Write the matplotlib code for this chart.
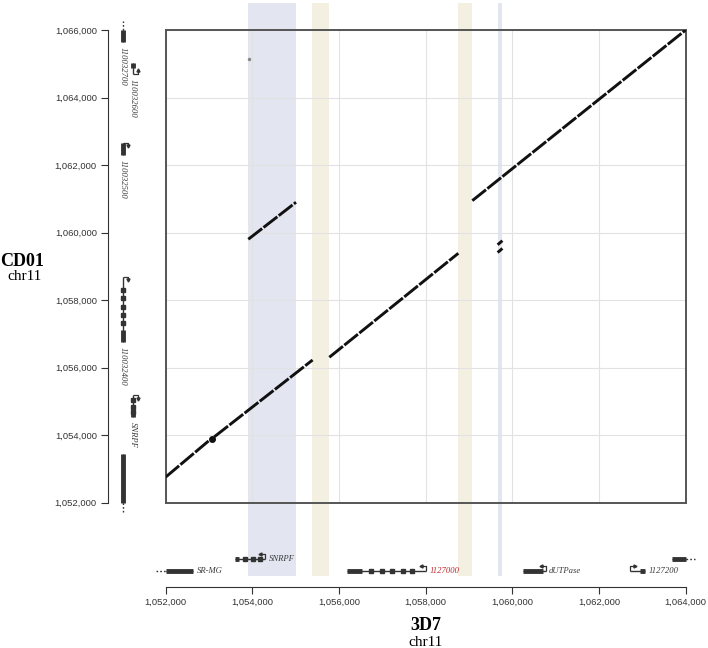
import matplotlib
matplotlib.use('Agg')
import matplotlib.pyplot as plt
from matplotlib.ticker import FuncFormatter, MultipleLocator

# plot ranges (3D7 on x, CD01 on y)
x_lo, x_hi = 1052000, 1064000
y_lo, y_hi = 1052000, 1066000

# highlighted regions on 3D7
blue_spans = [(1053906, 1055007), (1059669, 1059768)]
tan_spans = [(1055383, 1055769), (1058753, 1059076)]

# alignment segments (3D7 x, CD01 y)
seg_x0 = [1052000, 1053120, 1055776, 1059076, 1053906, 1059660, 1059660]
seg_x1 = [1053000, 1055390, 1058753, 1064000, 1055007, 1059770, 1059770]
seg_y0 = [1052760, 1053950, 1056307, 1060946, 1059802, 1059640, 1059410]
seg_y1 = [1053840, 1056227, 1059387, 1066000, 1060898, 1059760, 1059530]
blob_x, blob_y = [1053062], [1053896]
spot_x, spot_y = [1053930], [1065143]

# 3D7 genes (bottom track)
names_3d7 = ['SR-MG', 'SNRPF', '1127000', 'dUTPase', '1127200', '']
start_3d7 = [1052000, 1053600, 1056177, 1060253, 1062715, 1063677]
end_3d7 = [1052637, 1054290, 1058008, 1060770, 1063062, 1064000]
lane_3d7 = [0, 1, 0, 0, 0, 1]
thick_3d7 = [(1052000, 1052637), (1053600, 1053700), (1056177, 1056523),
             (1060253, 1060714), (1062946, 1063062), (1063677, 1064000)]
exon_3d7 = [[], [1053830, 1054020, 1054180],
            [1056731, 1056985, 1057230, 1057484, 1057692], [], [], []]
tss_3d7 = [None, 1054290, 1058008, 1060770, 1062715, None]
tdir_3d7 = [0, -1, -1, -1, 1, 0]
dotted_3d7 = [(1051780, 1052000), None, None, None, None, (1064000, 1064215)]

# CD01 genes (left track)
names_cd01 = ['110032700', '110032600', '110032500', '110032400', 'SNRPF', '']
start_cd01 = [1065640, 1064700, 1062300, 1056769, 1054547, 1052000]
end_cd01 = [1066000, 1065017, 1062663, 1058694, 1055190, 1053443]
lane_cd01 = [0, 1, 0, 0, 1, 0]
thick_cd01 = [(1065640, 1066000), (1064880, 1065017), (1062300, 1062663),
              (1056769, 1057116), (1054547, 1054620), (1052000, 1053443)]
exon_cd01 = [[], [], [], [1058300, 1058055, 1057806, 1057560, 1057314],
             [1055042, 1054844, 1054695], []]
tss_cd01 = [None, 1064700, 1062663, 1058694, 1055190, None]
tdir_cd01 = [0, 1, -1, -1, -1, 0]
dotted_cd01 = [(1066000, 1066260), None, None, None, None, (1051733, 1052000)]

W, H = 708, 648
fig = plt.figure(figsize=(W / 100, H / 100), dpi=100)


def box(x0, x1, ytop, ybot):
    return [x0 / W, 1 - ybot / H, (x1 - x0) / W, (ybot - ytop) / H]


serif = 'Liberation Serif'
sans = 'Liberation Sans'
gene_col = '#333333'
fmt = FuncFormatter(lambda v, p: f'{int(v):,}')

ax = fig.add_axes(box(165.7, 685.7, 30, 502.7))
ax.set_xlim(x_lo, x_hi)
ax.set_ylim(y_lo, y_hi)
ax.xaxis.set_major_locator(MultipleLocator(2000))
ax.yaxis.set_major_locator(MultipleLocator(2000))
ax.tick_params(length=0, labelbottom=False, labelleft=False)
ax.grid(True, color='#e2e2e2', lw=0.8)
for s in ax.spines.values():
    s.set_color('#555555')
    s.set_linewidth(1.4)

for a, b in blue_spans:
    ax.axvspan(a, b, ymin=-0.155, ymax=1.057, color='#e3e5f1', lw=0, zorder=0.5, clip_on=False)
for a, b in tan_spans:
    ax.axvspan(a, b, ymin=-0.155, ymax=1.057, color='#f3f0e2', lw=0, zorder=0.5, clip_on=False)

for i in range(len(seg_x0)):
    ax.plot([seg_x0[i], seg_x1[i]], [seg_y0[i], seg_y1[i]], color='#111111',
            lw=2.1, dashes=(6, 0.6), solid_capstyle='butt', zorder=3)
ax.plot(blob_x, blob_y, 'o', color='#111111', ms=4, zorder=3)
ax.plot(spot_x, spot_y, 'o', color='#888888', ms=1.5, zorder=3)

# bottom gene track + x axis
axb = fig.add_axes(box(165.7, 685.7, 502.7, 586.7))
axb.set_facecolor('none')
axb.set_xlim(x_lo, x_hi)
axb.set_ylim(0, 1)
axb.xaxis.set_major_locator(MultipleLocator(2000))
axb.xaxis.set_major_formatter(fmt)
axb.set_yticks([])
for k in ['top', 'right', 'left']:
    axb.spines[k].set_visible(False)
axb.spines['bottom'].set_color('#333333')
axb.tick_params(axis='x', direction='out', length=5, color='#333333',
                labelsize=6.8, labelcolor='#333333', pad=3)

# left gene track + y axis
axl = fig.add_axes(box(108, 165.7, 30, 502.7))
axl.set_facecolor('none')
axl.set_ylim(y_lo, y_hi)
axl.set_xlim(0, 1)
axl.yaxis.set_major_locator(MultipleLocator(2000))
axl.yaxis.set_major_formatter(fmt)
axl.set_xticks([])
for k in ['top', 'right', 'bottom']:
    axl.spines[k].set_visible(False)
axl.spines['left'].set_color('#333333')
axl.tick_params(axis='y', direction='out', length=5, color='#333333',
                labelsize=6.8, labelcolor='#333333', pad=3)
for t in axl.get_yticklabels() + axb.get_xticklabels():
    t.set_fontfamily(sans)


def draw_gene(a, orient, lane, lo, hi, thick, exons, tss, tdir, dotted, name, perp, par):
    P = (lambda al, cr: (al, cr)) if orient == 'h' else (lambda al, cr: (cr, al))

    def line(al, cr, **kw):
        xs, ys = zip(*[P(p, q) for p, q in zip(al, cr)])
        a.plot(xs, ys, color=gene_col, clip_on=False, solid_capstyle='butt', **kw)

    line([lo, hi], [lane, lane], lw=1)
    line(list(thick), [lane, lane], lw=3.5)
    for e in exons:
        x, y = P(e, lane)
        a.plot(x, y, 's', color=gene_col, ms=2.3, clip_on=False)
    if dotted:
        line(list(dotted), [lane, lane], lw=1, ls=(0, (1.2, 1.5)))
    if tss is not None:
        line([tss, tss, tss + tdir * par], [lane, lane + perp, lane + perp], lw=0.9)
        x, y = P(tss + tdir * par, lane + perp)
        if orient == 'h':
            m = '>' if tdir > 0 else '<'
        else:
            m = '^' if tdir > 0 else 'v'
        a.plot(x, y, m, color=gene_col, ms=2.2, clip_on=False)
    if name:
        col = '#c0282d' if name == '1127000' else '#3a3a3a'
        if orient == 'h':
            a.annotate(name, xy=(hi, lane), xytext=(2.5, 0), textcoords='offset points',
                       ha='left', va='center', fontsize=6.2, style='italic',
                       family=serif, color=col)
        else:
            a.annotate(name, xy=(lane, lo), xytext=(0, -3.5), textcoords='offset points',
                       ha='center', va='top', rotation=-90, fontsize=6.2,
                       style='italic', family=serif, color=col)


lanes_b = [0.19, 0.325]
for i in range(len(names_3d7)):
    draw_gene(axb, 'h', lanes_b[lane_3d7[i]], start_3d7[i], end_3d7[i], thick_3d7[i],
              exon_3d7[i], tss_3d7[i], tdir_3d7[i], dotted_3d7[i], names_3d7[i],
              0.06, 110)

lanes_l = [0.26, 0.433]
for i in range(len(names_cd01)):
    draw_gene(axl, 'v', lanes_l[lane_cd01[i]], start_cd01[i], end_cd01[i], thick_cd01[i],
              exon_cd01[i], tss_cd01[i], tdir_cd01[i], dotted_cd01[i], names_cd01[i],
              0.08, 110)

fig.text(22 / W, 1 - 261 / H, 'CD01', ha='center', va='center', fontsize=13,
         fontweight='bold', family=serif)
fig.text(24 / W, 1 - 277 / H, 'chr11', ha='center', va='center', fontsize=11,
         family=serif)
fig.text(425.7 / W, 1 - 625 / H, '3D7', ha='center', va='center', fontsize=13,
         fontweight='bold', family=serif)
fig.text(425.7 / W, 1 - 642 / H, 'chr11', ha='center', va='center', fontsize=11,
         family=serif)

fig.savefig('out.png', dpi=100)
